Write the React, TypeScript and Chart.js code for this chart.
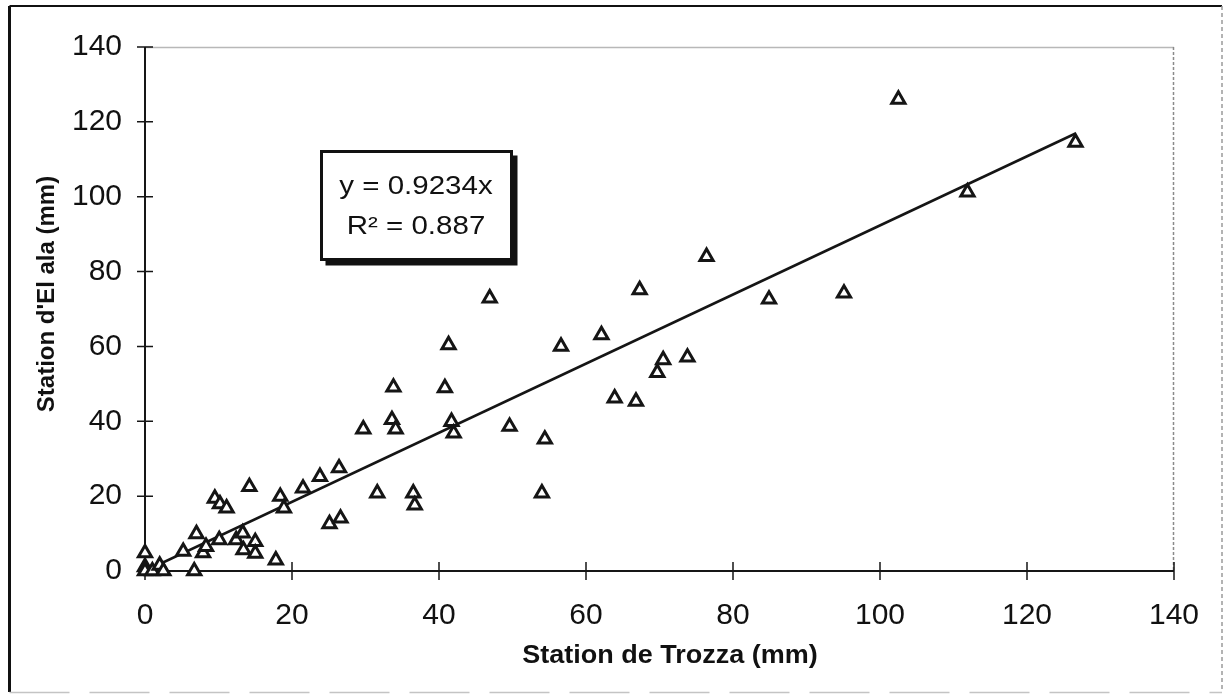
import React, { useEffect, useRef } from "react";
import { Chart, registerables } from "chart.js";

Chart.register(...registerables);

// Station de Trozza (mm)
const trozza = [
  0, 0, 0, 1.0, 2.0, 2.5, 5.2, 6.7, 7.0, 7.9,
  8.3, 9.5, 10.2, 11.1, 10.1, 12.4, 13.3, 13.4, 14.2, 15.0,
  15.0, 17.8, 18.4, 18.9, 21.5, 23.8, 26.4, 25.1, 26.6, 29.7,
  31.6, 33.6, 34.1, 33.8, 36.5, 36.7, 40.8, 41.3, 41.7, 42.0,
  46.9, 49.6, 54.0, 54.4, 56.6, 62.1, 63.9, 66.8, 67.3, 69.7,
  70.5, 73.8, 76.4, 84.9, 95.1, 102.5, 111.9, 126.6,
];
// Station d'El ala (mm)
const elAla = [
  4.8, 1.1, 0, 0, 1.5, 0, 5.2, 0, 9.9, 4.8,
  6.5, 19.4, 17.9, 16.8, 8.3, 8.3, 10.1, 5.6, 22.5, 7.8,
  4.7, 2.9, 19.9, 16.8, 22.1, 25.2, 27.5, 12.6, 14.1, 37.9,
  20.8, 40.4, 37.9, 49.1, 20.8, 17.6, 48.9, 60.4, 39.9, 36.8,
  72.9, 38.6, 20.8, 35.2, 60.0, 63.1, 46.2, 45.3, 75.1, 53.0,
  56.4, 57.1, 84.0, 72.6, 74.2, 126.0, 101.2, 114.5,
];
const xTicks = [0, 20, 40, 60, 80, 100, 120, 140];
const yTicks = [0, 20, 40, 60, 80, 100, 120, 140];
const slope = 0.9234;
const r2 = 0.887;
const trendX = [0, 126.6];
const xTitle = "Station de Trozza (mm)";
const yTitle = "Station d'El ala (mm)";
const eqLine1 = "y = " + slope + "x";
const eqLine2 = "R² = " + r2;

const FONT = '"Liberation Sans", Arial, Helvetica, sans-serif';

const decor = {
  id: "decor",
  beforeDatasetsDraw(chart: any) {
    const { ctx, chartArea: a, scales } = chart;
    const x = scales.x;
    const y = scales.y;
    ctx.save();
    // plot area top / right border (light)
    ctx.strokeStyle = "#b8b8b8";
    ctx.lineWidth = 1.5;
    ctx.beginPath();
    ctx.moveTo(a.left, a.top + 0.5);
    ctx.lineTo(a.right, a.top + 0.5);
    ctx.stroke();
    ctx.strokeStyle = "#8a8a8a";
    ctx.setLineDash([3, 2]);
    ctx.beginPath();
    ctx.moveTo(a.right - 0.5, a.top);
    ctx.lineTo(a.right - 0.5, a.bottom);
    ctx.stroke();
    ctx.setLineDash([]);
    // axes
    ctx.strokeStyle = "#161616";
    ctx.lineWidth = 2;
    ctx.beginPath();
    ctx.moveTo(a.left, a.top);
    ctx.lineTo(a.left, a.bottom);
    ctx.lineTo(a.right, a.bottom);
    ctx.stroke();
    // crossing tick marks
    ctx.lineWidth = 1.5;
    ctx.beginPath();
    for (const v of xTicks) {
      const px = x.getPixelForValue(v);
      ctx.moveTo(px, a.bottom - 9);
      ctx.lineTo(px, a.bottom + 9);
    }
    for (const v of yTicks) {
      const py = y.getPixelForValue(v);
      ctx.moveTo(a.left - 8, py);
      ctx.lineTo(a.left + 8, py);
    }
    ctx.stroke();
    ctx.restore();
  },
  afterDraw(chart: any) {
    const { ctx } = chart;
    const W = chart.width;
    const H = chart.height;
    ctx.save();
    // outer frame
    ctx.strokeStyle = "#111";
    ctx.lineWidth = 3;
    ctx.beginPath();
    ctx.moveTo(9.5, H - 2);
    ctx.lineTo(9.5, 6);
    ctx.stroke();
    ctx.lineWidth = 2;
    ctx.beginPath();
    ctx.moveTo(9.5, 6);
    ctx.lineTo(W - 8, 6);
    ctx.stroke();
    ctx.strokeStyle = "#9a9a9a";
    ctx.lineWidth = 1.5;
    ctx.setLineDash([4, 3]);
    ctx.beginPath();
    ctx.moveTo(W - 8, 6);
    ctx.lineTo(W - 8, H - 2);
    ctx.stroke();
    ctx.setLineDash([60, 20]);
    ctx.strokeStyle = "#c4c4c4";
    ctx.beginPath();
    ctx.moveTo(9.5, H - 1.5);
    ctx.lineTo(W - 8, H - 1.5);
    ctx.stroke();
    ctx.setLineDash([]);

    // axis titles
    ctx.fillStyle = "#111";
    ctx.textAlign = "center";
    ctx.textBaseline = "middle";
    ctx.font = "bold 25px " + FONT;
    ctx.save();
    ctx.translate(670, 656);
    ctx.scale(1.08, 1);
    ctx.fillText(xTitle, 0, 0);
    ctx.restore();
    ctx.save();
    ctx.translate(47, 294);
    ctx.rotate(-Math.PI / 2);
    ctx.font = "bold 24px " + FONT;
    ctx.fillText(yTitle, 0, 0);
    ctx.restore();

    // equation box with shadow
    const bx = 321.5, by = 151.5, bw = 190, bh = 108;
    ctx.fillStyle = "#111";
    ctx.fillRect(bx + 4, by + 4, bw + 2, bh + 2);
    ctx.fillStyle = "#fff";
    ctx.fillRect(bx, by, bw, bh);
    ctx.strokeStyle = "#111";
    ctx.lineWidth = 3;
    ctx.strokeRect(bx, by, bw, bh);
    ctx.fillStyle = "#111";
    ctx.textAlign = "center";
    ctx.textBaseline = "alphabetic";
    ctx.font = "25px " + FONT;
    ctx.save();
    ctx.translate(416, 194);
    ctx.scale(1.18, 1);
    ctx.fillText(eqLine1, 0, 0);
    ctx.restore();
    ctx.save();
    ctx.translate(416, 234);
    ctx.scale(1.18, 1);
    ctx.fillText(eqLine2, 0, 0);
    ctx.restore();
    ctx.restore();
  },
};

export default function App() {
  const ref = useRef<HTMLCanvasElement | null>(null);
  useEffect(() => {
    document.body.style.margin = "0";
    const points = trozza.map((v, i) => ({ x: v, y: elAla[i] }));
    const trend = trendX.map((v) => ({ x: v, y: slope * v }));
    const chart = new Chart(ref.current as HTMLCanvasElement, {
      type: "scatter",
      data: {
        datasets: [
          {
            label: "Observations",
            data: points,
            pointStyle: "triangle",
            pointRadius: 7.6,
            pointHoverRadius: 7.6,
            pointBorderWidth: 3,
            pointBackgroundColor: "#ffffff",
            pointBorderColor: "#151515",
            showLine: false,
            clip: false,
            order: 0,
          } as any,
          {
            type: "line",
            label: "Trend",
            data: trend,
            borderColor: "#151515",
            borderWidth: 2.6,
            pointRadius: 0,
            fill: false,
            tension: 0,
            order: 1,
          } as any,
        ],
      },
      options: {
        animation: false,
        responsive: false,
        devicePixelRatio: 1,
        layout: { padding: { top: 47, right: 56, left: 0, bottom: 0 } },
        plugins: { legend: { display: false }, tooltip: { enabled: false }, title: { display: false } },
        scales: {
          x: {
            type: "linear",
            min: 0,
            max: 140,
            afterFit: (s: any) => {
              s.height = 123;
            },
            afterBuildTicks: (s: any) => {
              s.ticks = xTicks.map((v) => ({ value: v }));
            },
            grid: { display: false, drawTicks: false },
            border: { display: false },
            ticks: {
              padding: 27,
              color: "#111",
              font: { family: FONT, size: 30 },
              maxRotation: 0,
            },
          },
          y: {
            type: "linear",
            min: 0,
            max: 140,
            afterFit: (s: any) => {
              s.width = 145;
            },
            afterBuildTicks: (s: any) => {
              s.ticks = yTicks.map((v) => ({ value: v }));
            },
            grid: { display: false, drawTicks: false },
            border: { display: false },
            ticks: {
              padding: 23,
              color: "#111",
              font: { family: FONT, size: 30 },
            },
          },
        },
      },
      plugins: [decor],
    });
    return () => chart.destroy();
  }, []);
  return (
    <div style={{ position: "absolute", left: 0, top: 0, width: 1230, height: 694, background: "#fff" }}>
      <canvas ref={ref} width={1230} height={694} style={{ display: "block" }} />
    </div>
  );
}
